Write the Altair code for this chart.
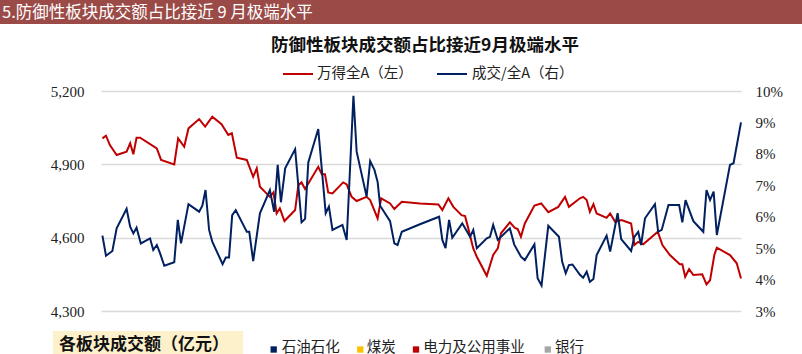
import altair as alt
import pandas as pd

# ---------------- data ----------------
# trading-day index (0..180) and 万得全A close (left axis)
red_t = [0.4, 1.4, 2.5, 4.4, 7.2, 8.2, 9.1, 10.0, 11.0, 15.7, 16.9, 20.6, 21.7, 23.4, 24.6,
         27.6, 29.3, 31.3, 33.9, 35.8, 36.8, 38.2, 41.0, 42.8, 43.8, 44.7, 47.5, 48.5, 49.4,
         50.3, 51.6, 54.6, 55.5, 56.4, 57.4, 61.1, 62.1, 63.0, 63.9, 65.1, 68.1, 69.1, 70.5,
         71.9, 74.7, 75.7, 77.8, 78.8, 81.3, 82.5, 84.6, 89.7, 94.9, 96.0, 97.7, 99.1, 101.4,
         102.4, 103.3, 104.7, 105.7, 108.5, 110.3, 111.6, 112.5, 115.0, 116.4, 117.2, 118.1,
         119.2, 121.9, 123.8, 125.8, 128.6, 130.5, 131.6, 134.7, 135.6, 136.6, 137.5, 138.5,
         139.4, 142.2, 143.2, 144.6, 146.4, 149.1, 150.0, 151.1, 152.5, 156.6, 157.9, 160.0,
         162.8, 163.5, 164.3, 165.4, 166.6, 169.1, 170.3, 171.3, 172.5, 173.2, 176.9, 178.8, 180.0]
red_v = [5006, 5017, 4979, 4938, 4952, 4986, 4941, 5009, 5009, 4965, 4918, 4900, 5006, 4972, 5047,
         5085, 5054, 5095, 5064, 5020, 5027, 4927, 4918, 4849, 4884, 4808, 4767, 4785, 4699,
         4720, 4668, 4713, 4815, 4826, 4799, 4890, 4859, 4859, 4785, 4781, 4826, 4818, 4767,
         4750, 4767, 4754, 4679, 4761, 4740, 4717, 4747, 4740, 4736, 4713, 4761, 4726, 4692,
         4688, 4638, 4556, 4522, 4444, 4529, 4556, 4618, 4663, 4640, 4635, 4604,
         4658, 4731, 4740, 4704, 4726, 4767, 4726, 4761, 4767, 4754, 4706, 4737,
         4699, 4681, 4699, 4665, 4672, 4658, 4570, 4583, 4573, 4624, 4570, 4529,
         4491, 4491, 4440, 4471, 4447, 4450, 4409, 4426, 4529, 4559, 4529, 4495, 4433]

# trading-day index and 成交/全A share in % (right axis)
blue_t = [0.4, 1.4, 3.2, 4.4, 7.2, 8.2, 9.1, 10.0, 11.2, 13.8, 14.7, 15.7, 16.6, 17.8, 20.6,
          21.6, 22.5, 24.6, 27.6, 28.5, 29.4, 30.4, 31.3, 34.2, 35.1, 36.0, 36.9, 37.9, 41.0,
          41.7, 42.8, 44.7, 47.5, 48.7, 49.7, 50.6, 51.8, 54.6, 56.4, 57.4, 58.3, 61.1, 63.2,
          64.1, 65.1, 67.9, 69.1, 71.0, 71.9, 74.7, 75.7, 76.9, 77.8, 78.5, 81.3, 82.5, 83.4,
          84.6, 89.7, 95.1, 96.0, 96.9, 97.9, 98.8, 101.6, 103.8, 104.7, 105.7, 108.5, 109.4,
          110.3, 111.6, 115.0, 116.2, 118.1, 119.2, 121.9, 122.8, 123.9, 125.8, 128.8, 129.7,
          130.7, 131.6, 132.6, 134.7, 135.6, 136.6, 137.5, 138.5, 139.4, 142.2, 143.2, 145.3,
          146.3, 149.1, 150.0, 151.1, 151.9, 153.0, 155.8, 156.7, 157.7, 159.6, 162.6, 163.5,
          164.4, 166.6, 169.4, 170.3, 171.3, 172.3, 173.2, 176.9, 177.9, 180.0]
blue_v = [5.40, 4.76, 4.91, 5.63, 6.25, 5.68, 5.47, 5.65, 5.15, 5.31, 4.94, 5.10, 4.84, 4.44, 4.55,
          5.90, 5.15, 6.40, 6.16, 6.35, 6.85, 5.58, 5.21, 4.49, 4.70, 4.70, 6.05, 6.21, 5.52,
          5.52, 4.59, 6.11, 6.85, 6.16, 7.65, 6.46, 7.54, 8.15, 5.82, 5.93, 7.73, 8.79, 6.11,
          6.32, 5.58, 5.74, 5.26, 9.85, 8.07, 6.64, 7.77, 7.49, 7.11, 6.35, 5.86, 5.15, 5.10,
          5.52, 5.76, 6.00, 5.26, 5.00, 5.90, 5.33, 5.79, 5.36, 5.58, 5.00, 5.31, 5.36,
          5.74, 5.26, 5.63, 5.12, 4.73, 4.62, 5.12, 4.04, 3.81, 5.71, 5.36, 4.57,
          4.20, 4.46, 4.48, 4.15, 4.06, 4.25, 3.93, 4.02, 4.78, 5.40, 4.89, 6.11,
          5.29, 4.91, 5.36, 5.52, 5.10, 5.95, 6.40, 5.52, 5.58, 6.37, 6.37, 5.82,
          6.53, 5.86, 5.52, 6.85, 6.53, 6.80, 5.42, 7.65, 7.70, 9.00]

left_ticks = [4300, 4600, 4900, 5200]
right_ticks = [3, 4, 5, 6, 7, 8, 9, 10]

header_text = "5.防御性板块成交额占比接近 9 月极端水平"
title_text = "防御性板块成交额占比接近9月极端水平"
legend_labels = ["万得全A（左）", "成交/全A（右）"]
box_text = "各板块成交额（亿元）"
sector_labels = ["石油石化", "煤炭", "电力及公用事业", "银行"]
sector_colors = ["#002060", "#FFC000", "#C00000", "#A6A6A6"]

RED = "#C00000"
NAVY = "#002060"
CJK = "Noto Sans CJK SC"
SERIF = "Liberation Serif"

red_df = pd.DataFrame({"t": red_t, "v": red_v})
blue_df = pd.DataFrame({"t": blue_t, "p": [v / 100 for v in blue_v]})
one = pd.DataFrame({"a": [0]})

xscale = alt.Scale(domain=[0, 180], nice=False, zero=False)

axis_common = dict(title=None, domain=False, ticks=False, labelFont=SERIF,
                   labelFontSize=15, labelColor="#222222")

red = alt.Chart(red_df).mark_line(color=RED, strokeWidth=2).encode(
    x=alt.X("t:Q", scale=xscale, axis=None),
    y=alt.Y("v:Q", scale=alt.Scale(domain=[4300, 5200], nice=False, zero=False),
            axis=alt.Axis(orient="left", values=left_ticks, format=",.0f", grid=True,
                          gridColor="#D9D9D9", gridWidth=1.5, labelPadding=17,
                          **axis_common)),
)

blue = alt.Chart(blue_df).mark_line(color=NAVY, strokeWidth=2).encode(
    x=alt.X("t:Q", scale=xscale, axis=None),
    y=alt.Y("p:Q", scale=alt.Scale(domain=[0.03, 0.10], nice=False, zero=False),
            axis=alt.Axis(orient="right", values=[v / 100 for v in right_ticks],
                          format=".0%", grid=False, labelPadding=14, **axis_common)),
)

# ---------------- annotations (header, title, legends) ----------------
header_bar = alt.Chart(one).mark_rect(color="#9B4B47").encode(
    x=alt.value(-101), x2=alt.value(701), y=alt.value(-91), y2=alt.value(-67))
header = alt.Chart(one).mark_text(text=header_text, align="left", baseline="middle",
                                  font=CJK, fontSize=16.5, color="white").encode(
    x=alt.value(-99), y=alt.value(-78))
title = alt.Chart(one).mark_text(text=title_text, align="center", baseline="middle",
                                 font=CJK, fontSize=17.5, fontWeight="bold",
                                 color="#111111").encode(
    x=alt.value(324), y=alt.value(-45))

leg_red_line = alt.Chart(one).mark_rule(color=RED, strokeWidth=2).encode(
    x=alt.value(182), x2=alt.value(212), y=alt.value(-17))
leg_red_text = alt.Chart(one).mark_text(text=legend_labels[0], align="left", baseline="middle",
                                        font=CJK, fontSize=14.5, color="#222222").encode(
    x=alt.value(216), y=alt.value(-17))
leg_blue_line = alt.Chart(one).mark_rule(color=NAVY, strokeWidth=2).encode(
    x=alt.value(336), x2=alt.value(366), y=alt.value(-17))
leg_blue_text = alt.Chart(one).mark_text(text=legend_labels[1], align="left", baseline="middle",
                                         font=CJK, fontSize=14.5, color="#222222").encode(
    x=alt.value(371), y=alt.value(-17))

box = alt.Chart(one).mark_rect(color="#FDF1CC").encode(
    x=alt.value(-48), x2=alt.value(142), y=alt.value(240), y2=alt.value(266))
box_label = alt.Chart(one).mark_text(text=box_text, align="left", baseline="middle",
                                     font=CJK, fontSize=17, fontWeight="bold",
                                     color="#111111").encode(
    x=alt.value(-42), y=alt.value(254))

sq_x = [172.7, 259.3, 315, 446.8]
txt_x = [180.7, 265.7, 322.3, 454]
sector_layers = []
for lab, col, sx, tx in zip(sector_labels, sector_colors, sq_x, txt_x):
    sector_layers.append(alt.Chart(one).mark_square(color=col, size=40, opacity=1).encode(
        x=alt.value(sx), y=alt.value(258.5)))
    sector_layers.append(alt.Chart(one).mark_text(text=lab, align="left", baseline="middle",
                                                  font=CJK, fontSize=14.5,
                                                  color="#222222").encode(
        x=alt.value(tx), y=alt.value(256.5)))

chart = alt.layer(
    red, blue,
    header_bar, header, title,
    leg_red_line, leg_red_text, leg_blue_line, leg_blue_text,
    box, box_label, *sector_layers,
).resolve_scale(y="independent").properties(
    width=640, height=220,
    autosize=alt.AutoSizeParams(type="none"),
    padding={"left": 101, "top": 91, "right": 61, "bottom": 43},
    background="white",
).configure_view(stroke=None)

chart.save("out.html", embed_options={"renderer": "svg", "actions": False})
